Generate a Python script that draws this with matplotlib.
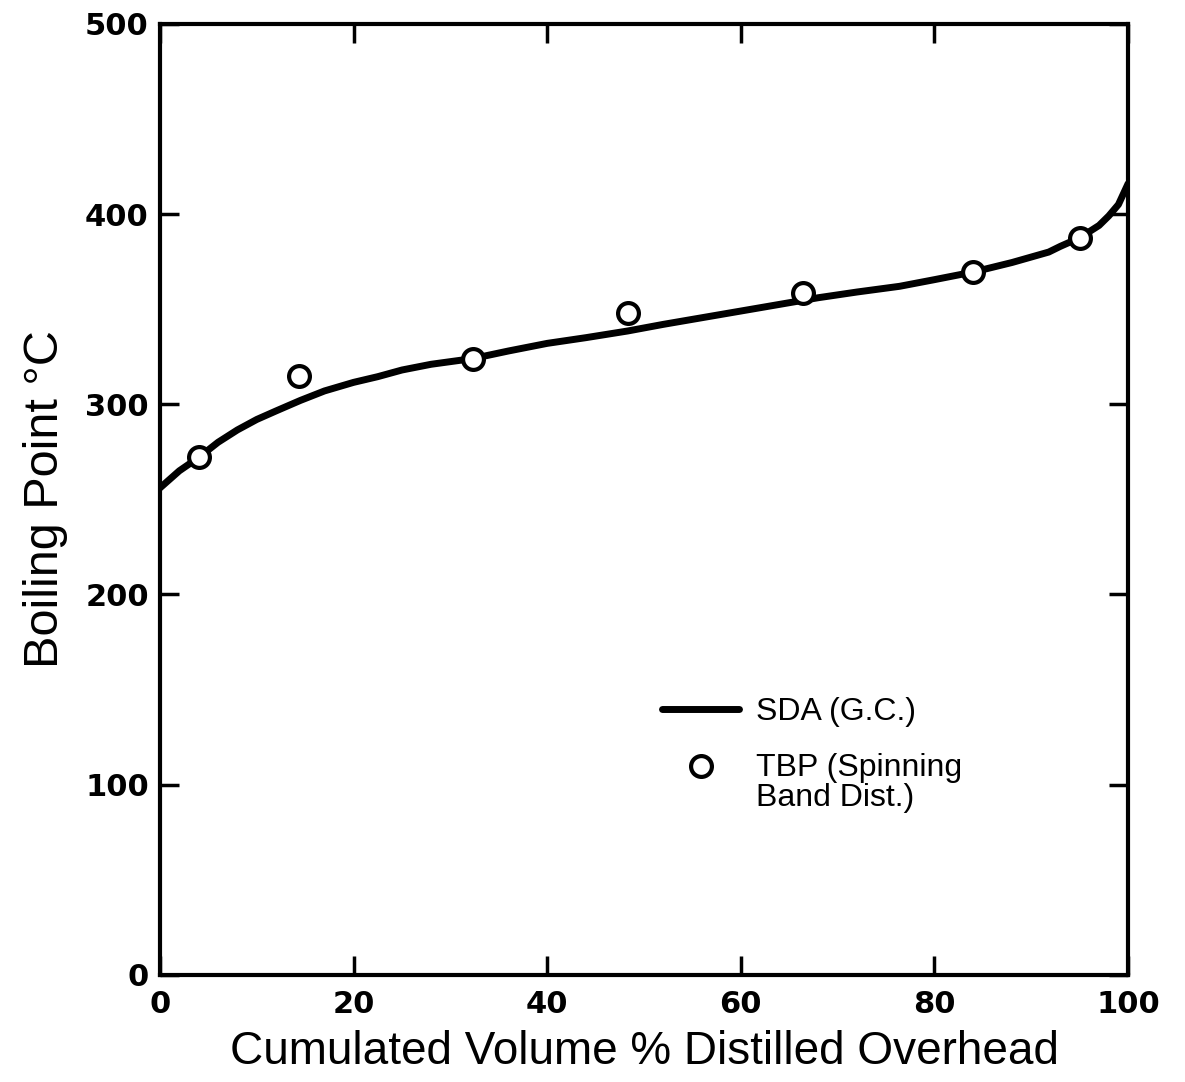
import matplotlib.pyplot as plt
from matplotlib.legend_handler import HandlerLine2D

plt.rcParams['font.family'] = ['Liberation Sans', 'DejaVu Sans']

# SDA (G.C.) curve
volume = [0, 2, 4, 6, 8, 10, 12, 14.5, 17, 20, 22.5, 25, 28, 32.3, 36, 40, 44, 48.3,
          52, 56, 60, 64, 68, 72, 76.4, 80, 84, 88, 91.8, 93, 95, 97, 98, 99, 100]
sda = [256, 265, 272, 280, 286.5, 292, 296.5, 302, 307, 311.5, 314.5, 318, 321, 324, 328, 332, 335, 338.5,
       342, 345.5, 349, 352.5, 356, 359, 362, 365.5, 369.5, 374.5, 380, 383, 387.5, 394, 399, 405, 416]

# TBP (spinning band) points
tbp_volume = [4.0, 14.4, 32.3, 48.3, 66.4, 84.0, 95.0]
tbp = [272, 315, 324, 348, 358.5, 369.5, 387.5]

x_ticks = [0, 20, 40, 60, 80, 100]
y_ticks = [0, 100, 200, 300, 400, 500]


class MarkerUp(HandlerLine2D):
    # put the circle next to the first line of a two-line label
    def create_artists(self, legend, orig_handle, xdescent, ydescent, width, height, fontsize, trans):
        return super().create_artists(legend, orig_handle, xdescent, ydescent - 1.1 * fontsize,
                                      width, height, fontsize, trans)


fig = plt.figure(figsize=(11.85, 10.82), dpi=100)
ax = fig.add_axes([0.135, 0.099, 0.817, 0.879])

ax.plot(volume, sda, color='black', lw=5, solid_capstyle='round', solid_joinstyle='round',
        label='SDA (G.C.)', zorder=2)
circles, = ax.plot(tbp_volume, tbp, 'o', ms=15, mfc='white', mec='black', mew=3,
                   label='TBP (Spinning\nBand Dist.)', zorder=3)

ax.set_xlim(0, 100)
ax.set_ylim(0, 500)
ax.set_xticks(x_ticks)
ax.set_yticks(y_ticks)
ax.tick_params(direction='in', length=14, width=2.5, top=True, right=True,
               labelsize=22, labelfontfamily='DejaVu Sans')
ax.tick_params(axis='x', pad=11)
ax.tick_params(axis='y', pad=8)
for lab in ax.get_xticklabels() + ax.get_yticklabels():
    lab.set_fontweight('bold')
for s in ax.spines.values():
    s.set_linewidth(3)

ax.set_xlabel('Cumulated Volume % Distilled Overhead', fontsize=33, labelpad=8)
ax.set_ylabel('Boiling Point °C', fontsize=35, labelpad=12)

leg = ax.legend(loc='upper left', bbox_to_anchor=(0.519, 0.292), frameon=False, fontsize=23,
                handlelength=2.4, handletextpad=0.52, labelspacing=0.82, borderpad=0,
                borderaxespad=0, handler_map={circles: MarkerUp()})
leg.get_texts()[1].set_linespacing(1.0)

fig.savefig('out.png', dpi=100)
